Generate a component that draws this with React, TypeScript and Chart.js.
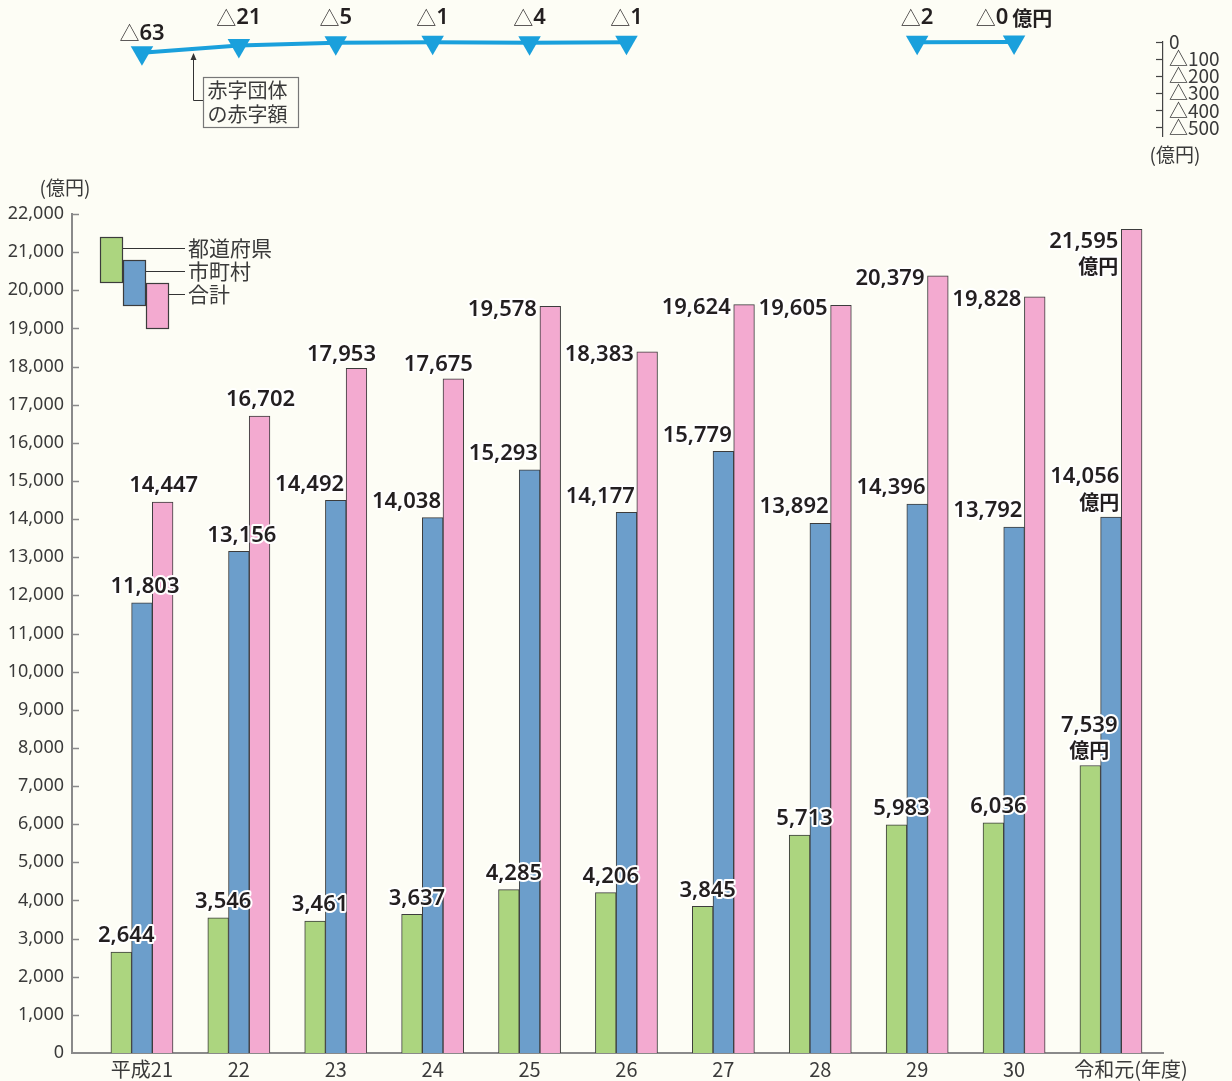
import React, { useEffect, useRef } from 'react';
import { Chart, registerables } from 'chart.js';

Chart.register(...registerables);

// ---------- data ----------
const categories = ['平成21', '22', '23', '24', '25', '26', '27', '28', '29', '30', '令和元'];
const xAxisSuffix = '(年度)';
const seriesNames = ['都道府県', '市町村', '合計'];
const prefectures = [2644, 3546, 3461, 3637, 4285, 4206, 3845, 5713, 5983, 6036, 7539];
const municipalities = [11803, 13156, 14492, 14038, 15293, 14177, 15779, 13892, 14396, 13792, 14056];
const totals = [14447, 16702, 17953, 17675, 19578, 18383, 19624, 19605, 20379, 19828, 21595];
const deficitAmounts: (number | null)[] = [63, 21, 5, 1, 4, 1, null, null, 2, 0, null];
const amountTicks = [0, 1000, 2000, 3000, 4000, 5000, 6000, 7000, 8000, 9000, 10000, 11000, 12000, 13000, 14000, 15000, 16000, 17000, 18000, 19000, 20000, 21000, 22000];
const deficitTicks = [0, 100, 200, 300, 400, 500];
const unitLabel = '(億円)';
const unit = '億円';
const deficitNote = ['赤字団体', 'の赤字額'];

// ---------- style ----------
const BG = '#fdfdf5';
const BAR_COLORS = ['#acd57f', '#6c9ecb', '#f3aad0'];
const LINE_COLOR = '#1aa0dc';
const TEXT = '#231f20';
const AXIS_TEXT = '#3a3a3a';
const X_MIN = -0.722;
const X_MAX = 10.537;
const NUM_FONT = '"Noto Sans", "Noto Sans CJK JP", sans-serif';
const JP_FONT = '"Noto Sans CJK JP", "Noto Sans", sans-serif';

function fmt(v: number) {
  return v.toLocaleString('en-US');
}

function haloText(ctx: CanvasRenderingContext2D, text: string, x: number, y: number) {
  ctx.save();
  ctx.lineJoin = 'round';
  ctx.lineWidth = 4;
  ctx.strokeStyle = '#ffffff';
  ctx.strokeText(text, x, y);
  ctx.fillStyle = TEXT;
  ctx.fillText(text, x, y);
  ctx.restore();
}

// labels on the bars
const barLabelPlugin = {
  id: 'barLabels',
  afterDatasetsDraw(chart: any) {
    const ctx: CanvasRenderingContext2D = chart.ctx;
    const last = categories.length - 1;
    ctx.save();
    ctx.textBaseline = 'middle';
    chart.data.datasets.forEach((ds: any, d: number) => {
      const meta = chart.getDatasetMeta(d);
      meta.data.forEach((bar: any, i: number) => {
        const value = ds.data[i].y;
        const cx = bar.x;
        const left = bar.x - bar.width / 2;
        const right = bar.x + bar.width / 2;
        const top = bar.y;
        let align: CanvasTextAlign = 'center';
        let x = cx;
        let y = top - 16;
        if (d === 0) {
          x = i === last ? cx - 1 : cx + 5;
        } else if (d === 1) {
          if (i < 2) { x = cx + 3; }
          else { align = 'right'; x = right - 2; }
        } else {
          if (i < 2) { x = cx + 1; }
          else if (i < 4) { x = cx - 15; y = top - 14; }
          else { align = 'right'; x = left - 3; y = top + 3; }
        }
        ctx.textAlign = align;
        if (i === last) {
          const y1 = d === 2 ? top + 12 : top - 40;
          ctx.font = `600 22px ${NUM_FONT}`;
          haloText(ctx, fmt(value), x, y1);
          ctx.font = `600 20px ${JP_FONT}`;
          haloText(ctx, unit, x, y1 + 25);
        } else {
          ctx.font = `600 22px ${NUM_FONT}`;
          haloText(ctx, fmt(value), x, y);
        }
      });
    });
    ctx.restore();
  },
};

// legend, unit title, inward ticks
const bottomDecorPlugin = {
  id: 'bottomDecor',
  afterDraw(chart: any) {
    const ctx: CanvasRenderingContext2D = chart.ctx;
    const area = chart.chartArea;
    const yScale = chart.scales.y;
    ctx.save();
    // inward tick marks
    ctx.strokeStyle = '#8a8a8a';
    ctx.lineWidth = 1.5;
    amountTicks.forEach((v) => {
      if (v === 0) return;
      const y = Math.round(yScale.getPixelForValue(v)) + 0.5;
      ctx.beginPath();
      ctx.moveTo(area.left, y);
      ctx.lineTo(area.left + 7, y);
      ctx.stroke();
    });
    // unit title
    ctx.fillStyle = AXIS_TEXT;
    ctx.font = `19px ${JP_FONT}`;
    ctx.textAlign = 'center';
    ctx.textBaseline = 'middle';
    ctx.fillText(unitLabel, 65, 18);
    // legend
    const bx = 100, by = 67, w = 23, h = 46, step = 23;
    ctx.font = `21px ${JP_FONT}`;
    ctx.textAlign = 'left';
    chart.data.datasets.forEach((ds: any, d: number) => {
      const x = bx + d * step;
      const y = by + d * step;
      ctx.fillStyle = ds.backgroundColor;
      ctx.fillRect(x, y, w, h);
      ctx.strokeStyle = '#3c3c3c';
      ctx.lineWidth = 1.2;
      ctx.strokeRect(x + 0.5, y + 0.5, w - 1, h - 1);
      const ly = Math.round(y + 11) + 0.5;
      ctx.beginPath();
      ctx.moveTo(x + w, ly);
      ctx.lineTo(185, ly);
      ctx.strokeStyle = '#333';
      ctx.lineWidth = 1;
      ctx.stroke();
      ctx.fillStyle = AXIS_TEXT;
      ctx.fillText(ds.label, 188, ly);
    });
    ctx.restore();
  },
};

const topDecorPlugin = {
  id: 'topDecor',
  afterDraw(chart: any) {
    const ctx: CanvasRenderingContext2D = chart.ctx;
    const yScale = chart.scales.y;
    const xScale = chart.scales.x;
    const meta = chart.getDatasetMeta(0);
    const yZero = yScale.getPixelForValue(0);
    ctx.save();
    // inward ticks on right axis
    ctx.strokeStyle = '#444';
    ctx.lineWidth = 1.2;
    deficitTicks.forEach((v) => {
      const y = Math.round(yScale.getPixelForValue(-v)) + 0.5;
      ctx.beginPath();
      ctx.moveTo(yScale.left - 7, y);
      ctx.lineTo(yScale.left, y);
      ctx.stroke();
    });
    // unit title
    ctx.fillStyle = AXIS_TEXT;
    ctx.font = `19px ${JP_FONT}`;
    ctx.textAlign = 'center';
    ctx.textBaseline = 'middle';
    ctx.fillText(unitLabel, yScale.left + 12, 155);

    // value labels
    let lastIdx = -1;
    deficitAmounts.forEach((v, i) => { if (v !== null) lastIdx = i; });
    deficitAmounts.forEach((v, i) => {
      if (v === null) return;
      const pt = meta.data[i];
      const y = v > 50 ? pt.y - 19 : yZero - 24;
      const parts: { text: string; font: string; gap: number; w?: number }[] = [
        { text: '△', font: `300 20px ${JP_FONT}`, gap: 0 },
        { text: String(v), font: `600 22px ${NUM_FONT}`, gap: i === lastIdx ? 4 : 0 },
      ];
      if (i === lastIdx) parts.push({ text: unit, font: `600 20px ${JP_FONT}`, gap: 0 });
      let total = 0;
      parts.forEach((p) => { ctx.font = p.font; p.w = ctx.measureText(p.text).width + p.gap; total += p.w; });
      let x = pt.x - total / 2;
      ctx.textAlign = 'left';
      ctx.fillStyle = TEXT;
      parts.forEach((p) => { ctx.font = p.font; ctx.fillText(p.text, x, y); x += p.w as number; });
    });

    // annotation: arrow + box
    const ax = Math.round(xScale.getPixelForValue(0.53)) + 0.5;
    const p0 = meta.data[0], p1 = meta.data[1];
    const t = (ax - p0.x) / (p1.x - p0.x);
    const lineY = p0.y + (p1.y - p0.y) * t;
    const tipY = lineY + 4;
    const boxX = 203.5, boxY = 77.5, boxW = 95, boxH = 50;
    const elbowY = 100.5;
    ctx.strokeStyle = '#333';
    ctx.lineWidth = 1;
    ctx.beginPath();
    ctx.moveTo(ax, tipY + 5);
    ctx.lineTo(ax, elbowY);
    ctx.lineTo(boxX, elbowY);
    ctx.stroke();
    ctx.fillStyle = '#333';
    ctx.beginPath();
    ctx.moveTo(ax, tipY);
    ctx.lineTo(ax - 3, tipY + 7);
    ctx.lineTo(ax + 3, tipY + 7);
    ctx.closePath();
    ctx.fill();
    ctx.strokeStyle = '#777';
    ctx.lineWidth = 1.2;
    ctx.strokeRect(boxX, boxY, boxW, boxH);
    ctx.fillStyle = AXIS_TEXT;
    ctx.font = `20px ${JP_FONT}`;
    ctx.textBaseline = 'middle';
    ctx.textAlign = 'left';
    ctx.fillText(deficitNote[0], boxX + 4, boxY + 13);
    ctx.fillText(deficitNote[1], boxX + 4, boxY + 37);
    ctx.restore();
  },
};

export default function App() {
  const topRef = useRef<HTMLCanvasElement>(null);
  const bottomRef = useRef<HTMLCanvasElement>(null);

  useEffect(() => {
    document.body.style.margin = '0';
    document.body.style.background = BG;

    const series = [prefectures, municipalities, totals];
    const bottom = new Chart(bottomRef.current as HTMLCanvasElement, {
      type: 'bar',
      data: {
        datasets: series.map((vals, d) => ({
          label: seriesNames[d],
          data: vals.map((v, i) => ({ x: i, y: v })),
          backgroundColor: BAR_COLORS[d],
          borderColor: '#3c3c3c',
          borderWidth: 1,
          barThickness: 20.7,
        })),
      } as any,
      options: {
        responsive: false,
        animation: false,
        layout: { padding: { top: 44, right: 69, left: 0, bottom: 0 } },
        plugins: { legend: { display: false }, tooltip: { enabled: false } },
        scales: {
          x: {
            type: 'linear',
            min: X_MIN,
            max: X_MAX,
            offset: false,
            grid: { display: false, drawTicks: false, offset: false },
            border: { display: true, color: '#8a8a8a', width: 2 },
            afterBuildTicks: (s: any) => { s.ticks = categories.map((_, i) => ({ value: i })); },
            afterFit: (s: any) => { s.height = 28; },
            ticks: {
              autoSkip: false,
              maxRotation: 0,
              minRotation: 0,
              padding: 4,
              color: AXIS_TEXT,
              font: { family: JP_FONT, size: 20 },
              callback: (v: any) => {
                const i = Number(v);
                return i === categories.length - 1 ? '\u3000\u3000' + categories[i] + xAxisSuffix : categories[i];
              },
            },
          },
          y: {
            min: 0,
            max: 22000,
            grid: { display: false, drawTicks: false },
            border: { display: true, color: '#8a8a8a', width: 2 },
            afterBuildTicks: (s: any) => { s.ticks = amountTicks.map((v) => ({ value: v })); },
            afterFit: (s: any) => { s.width = 72; },
            ticks: {
              autoSkip: false,
              padding: 8,
              color: AXIS_TEXT,
              font: { family: NUM_FONT, size: 18 },
              callback: (v: any) => fmt(Number(v)),
            },
          },
        },
      } as any,
      plugins: [barLabelPlugin, bottomDecorPlugin],
    });

    const top = new Chart(topRef.current as HTMLCanvasElement, {
      type: 'line',
      data: {
        datasets: [{
          label: deficitNote.join(''),
          data: deficitAmounts.map((v, i) => ({ x: i, y: v === null ? null : -v })),
          borderColor: LINE_COLOR,
          borderWidth: 4,
          pointStyle: 'triangle',
          pointRotation: 180,
          pointRadius: 13,
          pointBackgroundColor: LINE_COLOR,
          pointBorderColor: LINE_COLOR,
          pointBorderWidth: 0,
          spanGaps: false,
          tension: 0,
          clip: false,
        }],
      } as any,
      options: {
        responsive: false,
        animation: false,
        layout: { padding: { top: 42, bottom: 34, left: 72, right: 0 } },
        plugins: { legend: { display: false }, tooltip: { enabled: false } },
        scales: {
          x: { type: 'linear', min: X_MIN, max: X_MAX, display: false },
          y: {
            position: 'right',
            min: -550,
            max: 0,
            grid: { display: false, drawTicks: false },
            border: { display: true, color: '#444', width: 1.2 },
            afterBuildTicks: (s: any) => { s.ticks = deficitTicks.map((v) => ({ value: -v })); },
            afterFit: (s: any) => { s.width = 69; },
            ticks: {
              autoSkip: false,
              padding: 6,
              color: AXIS_TEXT,
              font: { family: JP_FONT, size: 19 },
              callback: (v: any) => (Number(v) === 0 ? '0' : '△' + Math.abs(Number(v))),
            },
          },
        },
      } as any,
      plugins: [topDecorPlugin],
    });

    return () => {
      bottom.destroy();
      top.destroy();
    };
  }, []);

  return (
    <div style={{ position: 'relative', width: 1232, height: 1081, background: BG, overflow: 'hidden' }}>
      <canvas ref={topRef} width={1232} height={170} style={{ position: 'absolute', left: 0, top: 0, display: 'block' }} />
      <canvas ref={bottomRef} width={1232} height={911} style={{ position: 'absolute', left: 0, top: 170, display: 'block' }} />
    </div>
  );
}
